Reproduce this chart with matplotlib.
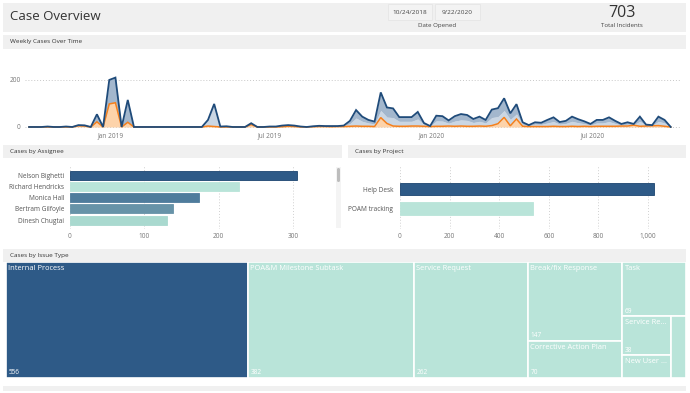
import numpy as np
import pandas as pd
import matplotlib
matplotlib.use("Agg")
import matplotlib.pyplot as plt
import matplotlib.dates as mdates
from matplotlib.patches import Rectangle, FancyBboxPatch
from matplotlib.ticker import FuncFormatter

W, H = 690, 393

# weekly case counts, one value per week starting with the week of 2018-10-01
WEEK_START = "2018-10-01"
total_cases = [0, 0, 0, 2, 0, 0, 2, 0, 8, 7,
               0, 54, 0, 200, 210, 0, 115, 0, 0, 0,
               0, 0, 0, 0, 0, 0, 0, 0, 0, 30,
               98, 2, 3, 0, 0, 0, 16, 0, 0, 2,
               2, 6, 8, 6, 2, 0, 3, 5, 4, 4,
               4, 6, 26, 72, 44, 30, 23, 147, 83, 79,
               42, 42, 42, 64, 17, 4, 48, 46, 28, 46,
               55, 51, 34, 44, 30, 74, 80, 122, 58, 97,
               20, 8, 20, 18, 30, 41, 21, 26, 44, 33,
               24, 13, 30, 30, 41, 26, 13, 20, 13, 44,
               10, 8, 44, 30, 0]
# top of the light-blue band (cumulative)
light_cases = [0, 0, 0, 2, 0, 0, 2, 0, 5, 4,
               0, 22, 0, 98, 103, 0, 20, 0, 0, 0,
               0, 0, 0, 0, 0, 0, 0, 0, 0, 28,
               90, 2, 3, 0, 0, 0, 14, 0, 0, 2,
               2, 6, 8, 6, 2, 0, 3, 5, 4, 4,
               4, 6, 14, 38, 24, 17, 13, 70, 42, 40,
               24, 24, 24, 34, 10, 3, 26, 25, 16, 25,
               30, 28, 19, 24, 17, 40, 44, 70, 32, 55,
               12, 5, 12, 11, 17, 23, 12, 15, 24, 18,
               14, 8, 17, 17, 23, 15, 8, 12, 10, 24,
               7, 6, 24, 17, 0]
orange_cases = [0, 0, 0, 0, 0, 0, 0, 0, 5, 4,
                0, 22, 0, 98, 103, 0, 20, 0, 0, 0,
                0, 0, 0, 0, 0, 0, 0, 0, 0, 4,
                2, 0, 0, 0, 0, 0, 10, 0, 0, 0,
                0, 1, 3, 2, 0, 0, 1, 2, 2, 1,
                2, 2, 3, 4, 3, 3, 2, 40, 15, 4,
                3, 3, 4, 4, 3, 2, 3, 3, 4, 3,
                4, 3, 3, 4, 3, 6, 14, 41, 5, 34,
                3, 2, 2, 2, 2, 3, 2, 2, 3, 2,
                3, 2, 3, 3, 3, 3, 4, 4, 8, 3,
                4, 5, 6, 3, 0]

assignees = ["Nelson Bighetti", "Richard Hendricks", "Monica Hall",
             "Bertram Gilfoyle", "Dinesh Chugtai"]
assignee_cases = [305, 228, 173, 139, 130]
assignee_colors = ["#2e5a87", "#b9e4d9", "#4f7c9c", "#6793a8", "#a9d9cf"]

projects = ["Help Desk", "POAM tracking"]
project_cases = [1023, 535]
project_colors = ["#2e5a87", "#b9e4d9"]

issue_types = ["Internal Process", "POA&M Milestone Subtask", "Service Request",
               "Break/fix Response", "Corrective Action Plan", "Task",
               "Service Re...", "New User ...", "Other"]
issue_cases = [556, 382, 262, 147, 70, 69, 38, 22, 18]

DARK = "#2e5a87"
MINT = "#b9e4d9"
HEAD = "#f0f0f0"
TXT = "#333333"
TICK = "#777777"

plt.rcParams.update({"font.family": ["Open Sans", "DejaVu Sans"]})


def px_axes(fig, x0, y0, x1, y1):
    return fig.add_axes([x0 / W, 1 - y1 / H, (x1 - x0) / W, (y1 - y0) / H])


def squarify(values, x0, y0, x1, y1, ratio=(1 + 5 ** 0.5) / 2):
    """d3-style squarified treemap, returns (x, y, w, h) per value."""
    rects = []
    value = float(sum(values))
    i0, n = 0, len(values)
    while i0 < n:
        dx, dy = x1 - x0, y1 - y0
        i1 = i0 + 1
        s = mn = mx = values[i0]
        alpha = max(dy / dx, dx / dy) / (value * ratio)
        beta = s * s * alpha
        best = max(mx / beta, beta / mn)
        while i1 < n:
            v = values[i1]
            s2 = s + v
            beta = s2 * s2 * alpha
            r = max(max(mx, v) / beta, beta / min(mn, v))
            if r > best:
                break
            s, mn, mx, best = s2, min(mn, v), max(mx, v), r
            i1 += 1
        row = values[i0:i1]
        if dx < dy:
            h = dy * s / value
            xx = x0
            for v in row:
                w = dx * v / s
                rects.append((xx, y0, w, h))
                xx += w
            y0 += h
        else:
            w = dx * s / value
            yy = y0
            for v in row:
                h = dy * v / s
                rects.append((x0, yy, w, h))
                yy += h
            x0 += w
        value -= s
        i0 = i1
    return rects


fig = plt.figure(figsize=(W / 100, H / 100), dpi=100)
fig.patch.set_facecolor("white")

# background layer in pixel coordinates: header strips, slicer boxes, text
bg = fig.add_axes([0, 0, 1, 1])
bg.set_xlim(0, W)
bg.set_ylim(H, 0)
bg.axis("off")
for (x0, y0, x1, y1) in [(3, 3, 686, 32), (3, 35, 686, 49), (3, 145, 342, 158),
                         (348, 145, 686, 158), (3, 249, 686, 262), (3, 386, 686, 391)]:
    bg.add_patch(Rectangle((x0, y0), x1 - x0, y1 - y0, fc=HEAD, ec="none"))
for (x0, x1) in [(388, 432), (435, 480)]:
    bg.add_patch(Rectangle((x0, 4), x1 - x0, 16, fc="#f3f3f3", ec="#e4e4e4", lw=0.5))
bg.text(10, 17, "Case Overview", fontsize=9.5, color=TXT, va="center", ha="left")
bg.text(410, 12.5, "10/24/2018", fontsize=4.6, color="#444", va="center", ha="center")
bg.text(457, 12.5, "9/22/2020", fontsize=4.6, color="#444", va="center", ha="center")
bg.text(437, 25.5, "Date Opened", fontsize=4.4, color="#444", va="center", ha="center")
bg.text(622, 13, "703", fontsize=11.5, color=TXT, va="center", ha="center")
bg.text(622, 25.5, "Total Incidents", fontsize=4.4, color="#444", va="center", ha="center")
bg.text(10, 42, "Weekly Cases Over Time", fontsize=4.6, color=TXT, va="center")
bg.text(10, 151.5, "Cases by Assignee", fontsize=4.6, color=TXT, va="center")
bg.text(355, 151.5, "Cases by Project", fontsize=4.6, color=TXT, va="center")
bg.text(10, 255.5, "Cases by Issue Type", fontsize=4.6, color=TXT, va="center")
# scrollbar of the assignee list
bg.add_patch(Rectangle((336, 167), 5, 61, fc="#f4f4f4", ec="none"))
bg.add_patch(FancyBboxPatch((337, 168), 3, 14, boxstyle="round,pad=0,rounding_size=1.5",
                            fc="#bdbdbd", ec="none"))

# ---- weekly cases over time ----
dates = pd.date_range(WEEK_START, periods=len(total_cases), freq="7D")
tot = np.array(total_cases, float)
lig = np.array(light_cases, float)
ora = np.array(orange_cases, float)

ax = px_axes(fig, 25, 55, 680, 128)
ax.fill_between(dates, 0, ora, color="#fdd3aa", lw=0)
ax.fill_between(dates, ora, lig, color="#cad6e3", lw=0)
ax.fill_between(dates, lig, tot, color="#a3b7cd", lw=0)
ax.plot(dates, ora, color="#f7801a", lw=1.1, solid_joinstyle="miter")
ax.plot(dates, tot, color="#1f4b7a", lw=1.3, solid_joinstyle="miter")
ax.set_ylim(-4.3, 306)
ax.set_xlim(dates[0] - pd.Timedelta(days=4.6), dates[0] + pd.Timedelta(days=738.5))
ax.set_yticks([0, 200])
ax.xaxis.set_major_locator(mdates.MonthLocator(bymonth=[1, 7]))
ax.xaxis.set_major_formatter(mdates.DateFormatter("%b %Y"))
ax.tick_params(length=0, labelsize=4.7, labelcolor=TICK, pad=3)
ax.grid(axis="y", ls=(0, (1, 2)), color="#c8c8c8", lw=0.7)
ax.set_axisbelow(True)
for s in ax.spines.values():
    s.set_visible(False)

# ---- cases by assignee ----
ax = px_axes(fig, 70, 165, 330, 229)
ypos = np.arange(len(assignees))
ax.barh(ypos, assignee_cases, height=0.8, color=assignee_colors,
        edgecolor=["#1c4470"] + assignee_colors[1:], lw=0.6)
ax.set_xlim(0, 350)
ax.set_ylim(4.8, -0.89)
ax.set_yticks(ypos)
ax.set_yticklabels(assignees)
ax.set_xticks([0, 100, 200, 300])
ax.tick_params(length=0, labelsize=4.7, labelcolor=TICK, pad=3)
ax.tick_params(axis="y", labelsize=4.7, labelcolor="#555555", pad=4)
ax.grid(axis="x", ls=(0, (1, 2)), color="#d0d0d0", lw=0.7)
ax.set_axisbelow(True)
for s in ax.spines.values():
    s.set_visible(False)

# ---- cases by project ----
ax = px_axes(fig, 400, 165, 675, 229)
ypos = np.arange(len(projects))
ax.barh(ypos, project_cases, height=0.68, color=project_colors,
        edgecolor=["#1c4470", MINT], lw=0.6)
ax.set_xlim(0, 1109)
ax.set_ylim(2.1, -1.26)
ax.set_yticks(ypos)
ax.set_yticklabels(projects)
ax.set_xticks(range(0, 1001, 200))
ax.xaxis.set_major_formatter(FuncFormatter(lambda v, p: f"{int(v):,}"))
ax.tick_params(length=0, labelsize=4.7, labelcolor=TICK, pad=3)
ax.tick_params(axis="y", labelsize=4.7, labelcolor="#555555", pad=5)
ax.grid(axis="x", ls=(0, (1, 2)), color="#d0d0d0", lw=0.7)
ax.set_axisbelow(True)
for s in ax.spines.values():
    s.set_visible(False)

# ---- cases by issue type (treemap) ----
TW, TH = 680, 116
ax = px_axes(fig, 6, 262, 6 + TW, 262 + TH)
ax.set_xlim(0, TW)
ax.set_ylim(TH, 0)
ax.axis("off")
for k, (x, y, w, h) in enumerate(squarify(issue_cases, 0, 0, TW, TH)):
    ax.add_patch(Rectangle((x, y), w, h, fc=DARK if k == 0 else MINT,
                           ec="white", lw=1.2))
    if w > 25:
        ax.text(x + 2.5, y + 3, issue_types[k], color="white", fontsize=5.4,
                va="top", ha="left")
    if w > 25 and h > 30:
        ax.text(x + 2.5, y + h - 1.5, str(issue_cases[k]), color="white",
                fontsize=4.7, va="bottom", ha="left")

fig.savefig("out.png", dpi=100, facecolor="white")
